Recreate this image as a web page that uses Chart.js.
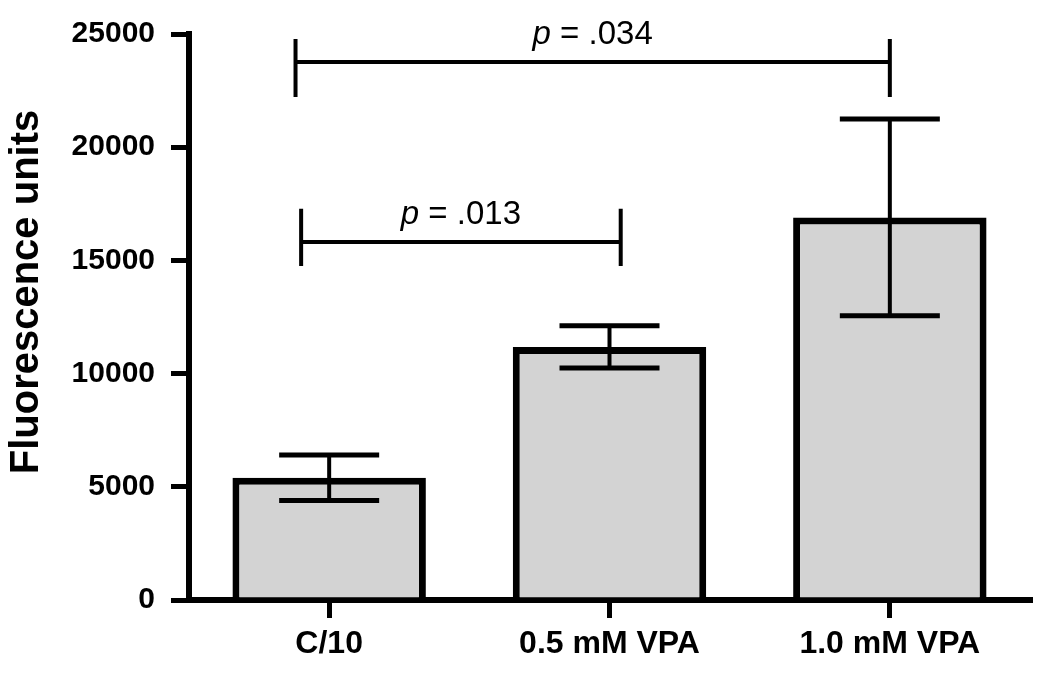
<!DOCTYPE html>
<html>
<head>
<meta charset="utf-8">
<script src="https://cdn.jsdelivr.net/npm/chart.js@4.4.1/dist/chart.umd.min.js"></script>
<style>
  html, body { margin: 0; padding: 0; background: #fff; }
  #wrap { width: 1050px; height: 679px; }
</style>
</head>
<body>
<div id="wrap"><canvas id="fluoChart" width="1050" height="679"></canvas></div>
<script>
// Data
const categories = ['C/10', '0.5 mM VPA', '1.0 mM VPA'];
const means = [5400, 11180, 16900];
const errors = [1000, 930, 4350];
const yTicks = [0, 5000, 10000, 15000, 20000, 25000];
const yTitle = 'Fluorescence units';

// significance brackets (category index from/to, heights in fluorescence units)
const bracketLabels = ['.034', '.013'];
const bracketFrom = [-0.12, -0.10];
const bracketTo = [2.0, 1.04];
const bracketLevel = [23760, 15810];
const bracketTop = [24780, 17280];
const bracketBottom = [22220, 14750];

const FONT = 'Liberation Sans, Arial, Helvetica, sans-serif';

const errorBars = {
    id: 'errorBars',
    afterDatasetsDraw(chart) {
        const ctx = chart.ctx;
        const meta = chart.getDatasetMeta(0);
        const y = chart.scales.y;
        ctx.save();
        ctx.strokeStyle = '#000';
        meta.data.forEach((bar, i) => {
            const top = y.getPixelForValue(means[i] + errors[i]);
            const bot = y.getPixelForValue(means[i] - errors[i]);
            ctx.lineWidth = 4;
            ctx.beginPath();
            ctx.moveTo(bar.x, top);
            ctx.lineTo(bar.x, bot);
            ctx.stroke();
            ctx.lineWidth = 5;
            ctx.beginPath();
            ctx.moveTo(bar.x - 50, top);
            ctx.lineTo(bar.x + 50, top);
            ctx.moveTo(bar.x - 50, bot);
            ctx.lineTo(bar.x + 50, bot);
            ctx.stroke();
        });
        ctx.restore();
    }
};

const brackets = {
    id: 'brackets',
    afterDraw(chart) {
        const ctx = chart.ctx;
        const x = chart.scales.x;
        const y = chart.scales.y;
        ctx.save();
        ctx.strokeStyle = '#000';
        ctx.fillStyle = '#000';
        ctx.lineWidth = 4;
        bracketLabels.forEach((lab, i) => {
            const x1 = x.getPixelForValue(bracketFrom[i]);
            const x2 = x.getPixelForValue(bracketTo[i]);
            const yl = y.getPixelForValue(bracketLevel[i]);
            const yt = y.getPixelForValue(bracketTop[i]);
            const yb = y.getPixelForValue(bracketBottom[i]);
            ctx.beginPath();
            ctx.moveTo(x1, yt); ctx.lineTo(x1, yb);
            ctx.moveTo(x2, yt); ctx.lineTo(x2, yb);
            ctx.moveTo(x1, yl); ctx.lineTo(x2, yl);
            ctx.stroke();

            // label: italic p, then " = value"
            const pPart = 'p';
            const rest = ' = ' + lab;
            ctx.font = 'italic 33px ' + FONT;
            const wp = ctx.measureText(pPart).width;
            ctx.font = '33px ' + FONT;
            const wr = ctx.measureText(rest).width;
            const cx = (x1 + x2) / 2;
            const start = cx - (wp + wr) / 2;
            ctx.textBaseline = 'alphabetic';
            ctx.textAlign = 'left';
            ctx.font = 'italic 33px ' + FONT;
            ctx.fillText(pPart, start, yl - 18);
            ctx.font = '33px ' + FONT;
            ctx.fillText(rest, start + wp, yl - 18);
        });

        // y axis title, sits a little above the middle of the axis in the original
        ctx.translate(27, 292);
        ctx.rotate(-Math.PI / 2);
        ctx.textAlign = 'center';
        ctx.textBaseline = 'middle';
        ctx.font = 'bold 40px ' + FONT;
        ctx.fillText(yTitle, 0, 0);
        ctx.restore();
    }
};

new Chart(document.getElementById('fluoChart'), {
    type: 'bar',
    data: {
        labels: categories,
        datasets: [{
            data: means,
            backgroundColor: '#d3d3d3',
            borderColor: '#000',
            borderWidth: 7,
            categoryPercentage: 1.0,
            barPercentage: 0.69
        }]
    },
    options: {
        responsive: false,
        animation: false,
        layout: { padding: { top: 34, right: 20, left: 0, bottom: 0 } },
        plugins: { legend: { display: false }, tooltip: { enabled: false } },
        scales: {
            x: {
                grid: { drawOnChartArea: false, offset: false, color: '#000', lineWidth: 5, tickLength: 18 },
                border: { color: '#000', width: 6 },
                ticks: { color: '#000', font: { family: FONT, size: 32, weight: 'bold' }, padding: 7 },
                afterFit(scale) { scale.height = 79; }
            },
            y: {
                min: 0,
                max: 25000,
                afterBuildTicks(scale) { scale.ticks = yTicks.map(v => ({ value: v })); },
                grid: { drawOnChartArea: false, color: '#000', lineWidth: 5, tickLength: 18 },
                border: { color: '#000', width: 6 },
                ticks: {
                    color: '#000',
                    font: { family: FONT, size: 30, weight: 'bold' },
                    padding: 16,
                    callback: v => String(v)
                },
                afterFit(scale) { scale.width = 189; }
            }
        }
    },
    plugins: [errorBars, brackets]
});
</script>
</body>
</html>
